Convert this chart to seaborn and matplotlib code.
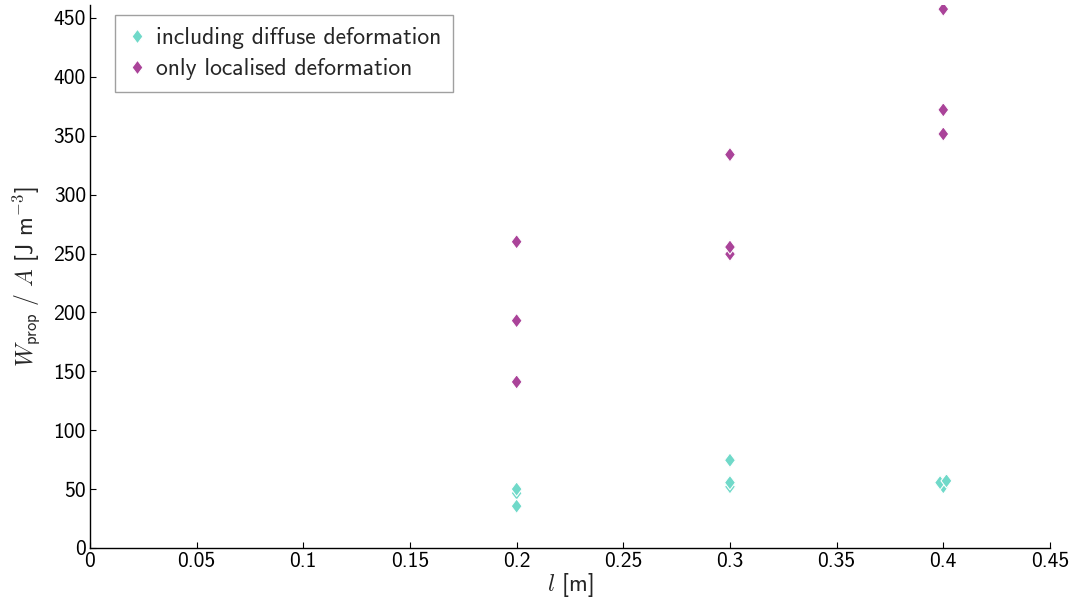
import matplotlib
matplotlib.use("Agg")
import matplotlib.pyplot as plt
import seaborn as sns
import pandas as pd

# Data (ordered so that overlaps stack as in the reference)
length_diffuse = [0.2, 0.2, 0.2, 0.3, 0.3, 0.3, 0.40, 0.3985, 0.4015]
energy_diffuse = [46.5, 50, 35.5, 52, 55.5, 74.5, 52, 55.5, 57]
length_local = [0.2, 0.2, 0.2, 0.3, 0.3, 0.3, 0.4, 0.4, 0.4]
energy_local = [260, 193, 141, 334, 249.5, 255.5, 457.5, 372, 351.5]
series_names = ["including diffuse deformation", "only localised deformation"]
colors = ["#70d9c9", "#aa4399"]

df = pd.DataFrame({
    "l": length_diffuse + length_local,
    "W": energy_diffuse + energy_local,
    "series": [series_names[0]] * len(length_diffuse) + [series_names[1]] * len(length_local),
})

sns.set_theme(style="white")
plt.rcParams["font.family"] = ["cmss10", "DejaVu Sans"]
plt.rcParams["mathtext.fontset"] = "cm"
plt.rcParams["axes.unicode_minus"] = False
plt.rcParams["axes.formatter.use_mathtext"] = False

fig = plt.figure(figsize=(10.75, 6.12), dpi=100)
ax = fig.add_axes([0.0837, 0.1046, 0.8930, 0.8872])

diamond = [(0, 1), (0.75, 0), (0, -1), (-0.75, 0), (0, 1)]
sns.scatterplot(data=df, x="l", y="W", hue="series", hue_order=series_names,
                palette=colors, marker=diamond, s=110, edgecolor="white",
                linewidth=0.8, ax=ax, zorder=3)

ax.set_xlim(0, 0.45)
ax.set_ylim(0, 461)
ax.set_xticks([0, 0.05, 0.1, 0.15, 0.2, 0.25, 0.3, 0.35, 0.4, 0.45])
ax.set_xticklabels(["0", "0.05", "0.1", "0.15", "0.2", "0.25", "0.3", "0.35", "0.4", "0.45"])
ax.set_yticks(range(0, 451, 50))
ax.set_yticklabels([str(v) for v in range(0, 451, 50)])

for side in ["top", "right"]:
    ax.spines[side].set_visible(False)
for side in ["left", "bottom"]:
    ax.spines[side].set_color("black")
    ax.spines[side].set_linewidth(1.0)
ax.tick_params(axis="both", direction="in", length=4, width=0.8, colors="black",
               labelsize=15.5, pad=3, left=True, bottom=True)

ax.set_xlabel(r"$l$ [m]", fontsize=17, labelpad=0)
ax.set_ylabel(r"$W_{\mathsf{prop}}\ /\ A$ [J m$^{\mathsf{-3}}$]", fontsize=17, labelpad=8)

leg = ax.legend(loc="upper left", bbox_to_anchor=(0.026, 0.9816), borderaxespad=0,
                fontsize=17, frameon=True, fancybox=False, edgecolor="#888888",
                handletextpad=0.35, borderpad=0.5, labelspacing=0.4, markerscale=1.0,
                handlelength=0.9)
leg.get_frame().set_linewidth(1.0)

fig.savefig("out.png", dpi=100)
